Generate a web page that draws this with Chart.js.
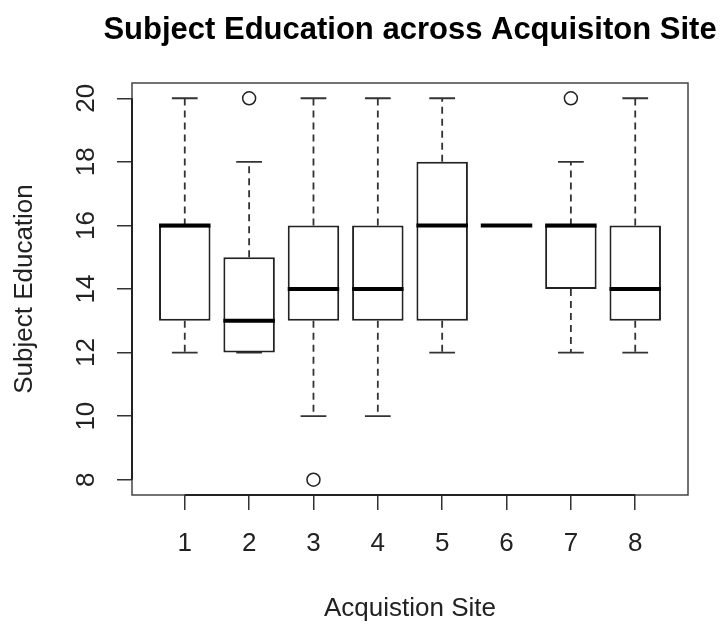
<!DOCTYPE html>
<html>
<head>
<meta charset="utf-8">
<script src="https://cdn.jsdelivr.net/npm/chart.js@4"></script>
<style>
  body { margin: 0; background: #fff; }
  canvas { display: block; }
</style>
</head>
<body>
<canvas id="boxChart" width="724" height="626"></canvas>
<script>
// education by acquisition site (boxplot stats)
const sites = [1, 2, 3, 4, 5, 6, 7, 8];
const whiskerLow = [12, 12, 10, 10, 12, 16, 12, 12];
const quartileLow = [13, 12, 13, 13, 13, 16, 14, 13];
const medians = [16, 13, 14, 14, 16, 16, 16, 14];
const quartileHigh = [16, 15, 16, 16, 18, 16, 16, 16];
const whiskerHigh = [20, 18, 20, 20, 20, 16, 18, 20];

const outlierSites = [2, 3, 7];
const outlierValues = [20, 8, 20];

const yTicks = [8, 10, 12, 14, 16, 18, 20];
const xTicks = sites;

const chartTitle = "Subject Education across Acquisiton Site";

const FONT = "'Liberation Sans', Arial, Helvetica, sans-serif";
const INK = "#222";

// whiskers, caps, medians, plot frame and the main title
const boxplotParts = {
  id: "boxplotParts",
  beforeDatasetsDraw(chart) {
    const ctx = chart.ctx;
    const x = chart.scales.x, y = chart.scales.y;
    const bars = chart.getDatasetMeta(0).data;
    ctx.save();
    ctx.strokeStyle = "#333";
    ctx.lineWidth = 1.8;
    sites.forEach((s, i) => {
      const px = x.getPixelForValue(s);
      const half = bars[i].width / 2;
      // dashed whiskers
      ctx.setLineDash([7, 5]);
      ctx.beginPath();
      ctx.moveTo(px, y.getPixelForValue(quartileHigh[i]));
      ctx.lineTo(px, y.getPixelForValue(whiskerHigh[i]));
      ctx.moveTo(px, y.getPixelForValue(quartileLow[i]));
      ctx.lineTo(px, y.getPixelForValue(whiskerLow[i]));
      ctx.stroke();
      // staples
      ctx.setLineDash([]);
      ctx.beginPath();
      [whiskerHigh[i], whiskerLow[i]].forEach(v => {
        const py = y.getPixelForValue(v);
        ctx.moveTo(px - half / 2, py);
        ctx.lineTo(px + half / 2, py);
      });
      ctx.stroke();
    });
    ctx.restore();
  },
  afterDatasetsDraw(chart) {
    const ctx = chart.ctx;
    const x = chart.scales.x, y = chart.scales.y;
    const bars = chart.getDatasetMeta(0).data;
    const area = chart.chartArea;
    ctx.save();
    ctx.strokeStyle = "#000";
    ctx.lineWidth = 4;
    ctx.beginPath();
    sites.forEach((s, i) => {
      const px = x.getPixelForValue(s);
      const half = bars[i].width / 2;
      const py = y.getPixelForValue(medians[i]);
      ctx.moveTo(px - half, py);
      ctx.lineTo(px + half, py);
    });
    ctx.stroke();
    // box around plot region
    ctx.strokeStyle = "#444";
    ctx.lineWidth = 1.5;
    ctx.strokeRect(area.left, area.top, area.right - area.left, area.bottom - area.top);
    // axis lines spanning the tick range, like R's axis()
    ctx.strokeStyle = "#222";
    ctx.lineWidth = 2;
    ctx.beginPath();
    ctx.moveTo(x.getPixelForValue(xTicks[0]), area.bottom);
    ctx.lineTo(x.getPixelForValue(xTicks[xTicks.length - 1]), area.bottom);
    ctx.moveTo(area.left, y.getPixelForValue(yTicks[0]));
    ctx.lineTo(area.left, y.getPixelForValue(yTicks[yTicks.length - 1]));
    ctx.stroke();
    // title centred over the plot region (may run wider than it)
    ctx.fillStyle = "#000";
    ctx.font = "bold 31px " + FONT;
    ctx.textAlign = "center";
    ctx.textBaseline = "middle";
    ctx.fillText(chartTitle, (area.left + area.right) / 2, 30);
    ctx.restore();
  }
};

new Chart(document.getElementById("boxChart"), {
  type: "bar",
  data: {
    datasets: [
      {
        type: "bar",
        data: sites.map((s, i) => ({ x: s, y: [quartileLow[i], quartileHigh[i]] })),
        backgroundColor: "#fff",
        borderColor: INK,
        borderWidth: 2,
        borderSkipped: false,
        categoryPercentage: 0.8,
        barPercentage: 1
      },
      {
        type: "scatter",
        data: outlierSites.map((s, i) => ({ x: s, y: outlierValues[i] })),
        pointStyle: "circle",
        pointRadius: 6.5,
        pointBorderWidth: 1.5,
        pointBackgroundColor: "#fff",
        pointBorderColor: INK
      }
    ]
  },
  options: {
    responsive: false,
    animation: false,
    layout: { padding: { left: 0, right: 36, top: 83, bottom: 0 } },
    plugins: {
      legend: { display: false },
      tooltip: { enabled: false },
      title: { display: false }
    },
    scales: {
      x: {
        type: "linear",
        min: 0.18,
        max: 8.82,
        offset: false,
        afterBuildTicks: scale => { scale.ticks = xTicks.map(v => ({ value: v })); },
        afterFit: scale => { scale.height = 131; },
        grid: { display: true, offset: false, drawOnChartArea: false, drawTicks: true, tickLength: 15, color: "#333", lineWidth: 1.5 },
        border: { display: false },
        ticks: { color: INK, padding: 18, font: { family: FONT, size: 26 }, maxRotation: 0, autoSkip: false },
        title: { display: true, text: "Acquistion Site", color: INK, font: { family: FONT, size: 26 }, padding: { top: 0, bottom: 2 } }
      },
      y: {
        type: "linear",
        min: 7.52,
        max: 20.48,
        afterBuildTicks: scale => { scale.ticks = yTicks.map(v => ({ value: v })); },
        afterFit: scale => { scale.width = 132; },
        grid: { display: true, drawOnChartArea: false, drawTicks: true, tickLength: 15, color: "#333", lineWidth: 1.5 },
        border: { display: false },
        ticks: { color: INK, padding: 16, crossAlign: "center", minRotation: 90, maxRotation: 90, font: { family: FONT, size: 26 } },
        title: { display: true, text: "Subject Education", color: INK, font: { family: FONT, size: 26 }, padding: { top: 9, bottom: 0 } }
      }
    }
  },
  plugins: [boxplotParts]
});
</script>
</body>
</html>
